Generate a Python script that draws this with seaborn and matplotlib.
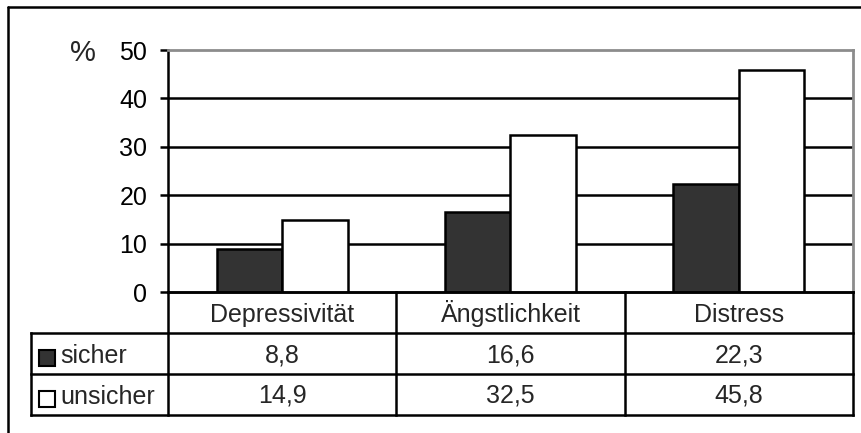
import matplotlib
matplotlib.use("Agg")
import matplotlib.pyplot as plt
from matplotlib.lines import Line2D
from matplotlib.patches import Rectangle
import seaborn as sns
import pandas as pd

# Data
categories = ["Depressivität", "Ängstlichkeit", "Distress"]
groups = ["sicher", "unsicher"]
sicher = [8.8, 16.6, 22.3]
unsicher = [14.9, 32.5, 45.8]
yticks = [0, 10, 20, 30, 40, 50]
y_unit = "%"

colors = {"sicher": "#333333", "unsicher": "#ffffff"}

df = pd.DataFrame({
    "Kategorie": categories * 2,
    "Gruppe": ["sicher"] * 3 + ["unsicher"] * 3,
    "Wert": sicher + unsicher,
})

sns.set_theme(style="white")
plt.rcParams["font.family"] = ["Liberation Sans", "DejaVu Sans"]
FS = 18

W, H = 862, 433
fig = plt.figure(figsize=(W / 100, H / 100), dpi=100)


def fx(x):
    return x / W


def fy(y):
    return 1 - y / H


# plot area in pixel coordinates
L, R, T, B = 168, 853, 50, 292
ax = fig.add_axes([fx(L), fy(B), fx(R - L), (B - T) / H])

LW = 1.8
sns.barplot(data=df, x="Kategorie", y="Wert", hue="Gruppe", order=categories,
            hue_order=groups, palette=colors, saturation=1, width=0.575,
            edgecolor="black", linewidth=LW, legend=False, ax=ax, zorder=3)

ax.set_xlim(-0.5, len(categories) - 0.5)
ax.set_ylim(yticks[0], yticks[-1])
ax.set_yticks(yticks)
ax.set_yticklabels([str(t) for t in yticks], fontsize=FS, color="black")
ax.set_xticks([])
ax.set_xlabel("")
ax.set_ylabel("")
for t in yticks[1:-1]:
    ax.axhline(t, color="black", lw=LW, zorder=1)
ax.tick_params(axis="y", direction="out", length=6, width=LW, color="black",
               pad=9, left=True)
ax.spines["left"].set_color("black")
ax.spines["left"].set_linewidth(LW)
ax.spines["bottom"].set_color("black")
ax.spines["bottom"].set_linewidth(LW)
for s in ("top", "right"):
    ax.spines[s].set_color("#8c8c8c")
    ax.spines[s].set_linewidth(2.0)

fig.text(fx(83), fy(50), y_unit, fontsize=21, ha="center", va="center_baseline")

# data table below the plot
col_edges = [L + (R - L) * i / len(categories) for i in range(len(categories) + 1)]
row_edges = [292, 333, 374, 415]
leg_left = 31


def hline(y, x0, x1):
    fig.add_artist(Line2D([fx(x0), fx(x1)], [fy(y), fy(y)], color="black", lw=LW,
                          transform=fig.transFigure, solid_capstyle="projecting"))


def vline(x, y0, y1):
    fig.add_artist(Line2D([fx(x), fx(x)], [fy(y0), fy(y1)], color="black", lw=LW,
                          transform=fig.transFigure, solid_capstyle="projecting"))


hline(row_edges[0], L, R)
for y in row_edges[1:]:
    hline(y, leg_left, R)
for x in col_edges:
    vline(x, row_edges[0], row_edges[-1])
vline(leg_left, row_edges[1], row_edges[-1])


def fmt(v):
    return f"{v:.1f}".replace(".", ",")


for i, cat in enumerate(categories):
    cx = (col_edges[i] + col_edges[i + 1]) / 2
    fig.text(fx(cx), fy(row_edges[0] + 30), cat, fontsize=FS, ha="center", va="baseline")
    fig.text(fx(cx), fy(row_edges[1] + 30), fmt(sicher[i]), fontsize=FS, ha="center", va="baseline")
    fig.text(fx(cx), fy(row_edges[2] + 29), fmt(unsicher[i]), fontsize=FS, ha="center", va="baseline")

for j, g in enumerate(groups):
    top = row_edges[j + 1]
    fig.add_artist(Rectangle((fx(39), fy(top + 33)), fx(16), 16 / H,
                             facecolor=colors[g], edgecolor="black", lw=1.5,
                             transform=fig.transFigure))
    fig.text(fx(60), fy(top + 30), g, fontsize=FS, ha="left", va="baseline")

# outer chart frame
fig.add_artist(Line2D([fx(8), fx(W + 5)], [fy(7), fy(7)], color="black", lw=1.8,
                      transform=fig.transFigure))
fig.add_artist(Line2D([fx(8), fx(8)], [fy(7), fy(H + 5)], color="black", lw=1.8,
                      transform=fig.transFigure))

fig.savefig("out.png", dpi=100)
